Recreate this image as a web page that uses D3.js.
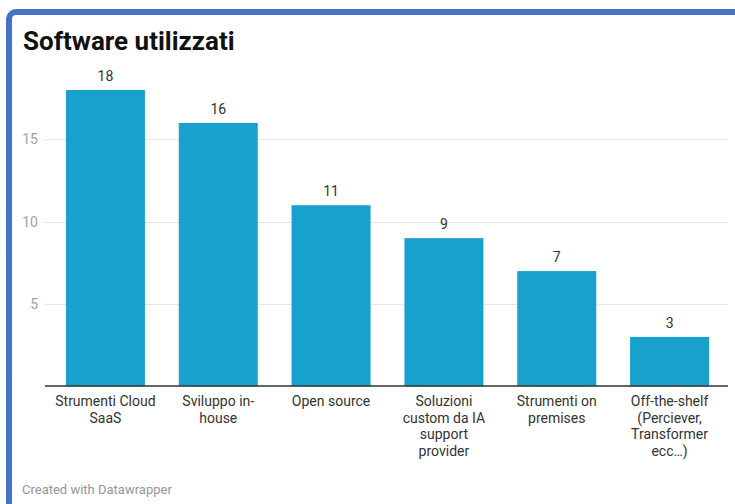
<!DOCTYPE html>
<html>
<head>
<meta charset="utf-8">
<script src="https://cdn.jsdelivr.net/npm/d3@7"></script>
<style>
  html, body { margin: 0; padding: 0; background: #fff; }
  svg { display: block; font-family: Roboto, "Noto Sans", sans-serif; }
</style>
</head>
<body>
<svg id="chart" width="735" height="504"></svg>
<script>
// Categories (each entry is a list of wrapped label lines)
const categories = [
  ["Strumenti Cloud", "SaaS"],
  ["Sviluppo in-", "house"],
  ["Open source"],
  ["Soluzioni", "custom da IA", "support", "provider"],
  ["Strumenti on", "premises"],
  ["Off-the-shelf", "(Perciever,", "Transformer", "ecc…)"]
];
const values = [18, 16, 11, 9, 7, 3];
const yTicks = [5, 10, 15];
const title = "Software utilizzati";
const footer = "Created with Datawrapper";

const svg = d3.select("#chart");

// Frame around the card
svg.append("rect")
  .attr("x", 9).attr("y", 12)
  .attr("width", 800).attr("height", 600)
  .attr("rx", 7)
  .attr("fill", "none")
  .attr("stroke", "#4673c6")
  .attr("stroke-width", 6);

svg.append("text")
  .attr("x", 23).attr("y", 50)
  .attr("font-size", 26).attr("font-weight", 700)
  .attr("fill", "#111")
  .text(title);

const ids = d3.range(categories.length);
const x = d3.scaleBand()
  .domain(ids)
  .range([49, 726])
  .paddingInner(0.3)
  .paddingOuter(0.15);

const y = d3.scaleLinear()
  .domain([0, 5])
  .range([386.3, 304]);

// Gridlines and tick labels
const grid = svg.append("g");
grid.selectAll("line")
  .data(yTicks)
  .join("line")
  .attr("x1", 45).attr("x2", 728)
  .attr("y1", d => Math.round(y(d)) + 0.5)
  .attr("y2", d => Math.round(y(d)) + 0.5)
  .attr("stroke", "#e6e6e6")
  .attr("stroke-width", 1);
grid.selectAll("text")
  .data(yTicks)
  .join("text")
  .attr("x", 38)
  .attr("y", d => y(d))
  .attr("dy", "0.35em")
  .attr("text-anchor", "end")
  .attr("font-size", 14)
  .attr("fill", "#a0a0a0")
  .text(d => d);

// Bars
svg.append("g").selectAll("rect")
  .data(values)
  .join("rect")
  .attr("x", (d, i) => x(i))
  .attr("width", x.bandwidth())
  .attr("y", d => y(d))
  .attr("height", d => y(0) - y(d))
  .attr("fill", "#18a1cd");

// Value labels
svg.append("g").selectAll("text")
  .data(values)
  .join("text")
  .attr("x", (d, i) => x(i) + x.bandwidth() / 2)
  .attr("y", d => y(d) - 9)
  .attr("text-anchor", "middle")
  .attr("font-size", 14)
  .attr("fill", "#333")
  .text(d => d);

// Baseline
svg.append("line")
  .attr("x1", 45).attr("x2", 728)
  .attr("y1", 386).attr("y2", 386)
  .attr("stroke", "#333")
  .attr("stroke-width", 1.3);

// Category labels
const cat = svg.append("g").selectAll("text")
  .data(categories)
  .join("text")
  .attr("text-anchor", "middle")
  .attr("font-size", 14)
  .attr("fill", "#333");
cat.each(function(lines, i) {
  const t = d3.select(this);
  lines.forEach((ln, k) => {
    t.append("tspan")
      .attr("x", x(i) + x.bandwidth() / 2)
      .attr("y", 406 + k * 16.5)
      .text(ln);
  });
});

svg.append("text")
  .attr("x", 22).attr("y", 494)
  .attr("font-size", 13)
  .attr("fill", "#959595")
  .text(footer);
</script>
</body>
</html>
